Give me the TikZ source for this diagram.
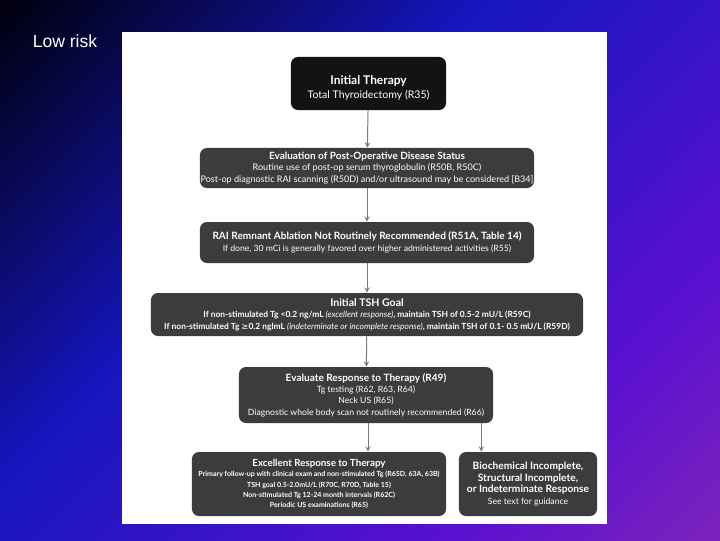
\documentclass[tikz,border=0pt]{standalone}
\usepackage{fontspec}
\setmainfont{Lato}
\newfontfamily\slidefont{Liberation Sans}
\newfontfamily\symfont{DejaVu Sans}
\definecolor{bgdark}{HTML}{00000E}
\definecolor{bgblue}{HTML}{1616C0}
\definecolor{bgviolet}{HTML}{5A10D0}
\definecolor{bgpurple}{HTML}{9A34A8}
\definecolor{boxblack}{HTML}{131313}
\definecolor{boxgray}{HTML}{3C3C3C}
\definecolor{arrowgray}{HTML}{7A7A7A}
\pgfdeclarehorizontalshading{slidebg}{100bp}{color(0bp)=(bgdark); color(15bp)=(bgdark); color(42bp)=(bgblue); color(70bp)=(bgviolet); color(100bp)=(bgpurple)}
\tikzset{
  stepbox/.style={fill=boxgray, rounded corners=5pt, text=white, align=center, inner sep=0pt},
  link/.style={->, draw=arrowgray, line width=0.7pt},
}

\begin{document}
\begin{tikzpicture}[x=0.025cm,y=-0.025cm,>=stealth]
  % slide background and white panel
  \shade[shading=slidebg,shading angle=-45] (0,0) rectangle (720,540);
  \fill[white] (122,32) rectangle (607,524);
  \node[text=white,font=\slidefont\fontsize{12.5}{14}\selectfont] (risk) at (65,41) {Low risk};

  % flow chart
  \node[stepbox,fill=boxblack,minimum width=3.875cm,minimum height=1.325cm,font=\fontsize{7.5}{10}\selectfont] (init) at (368.5,83.5)
    {\rule{0pt}{12pt}\textbf{\fontsize{8.5}{10}\selectfont Initial Therapy}\\Total Thyroidectomy (R35)};
  \node[stepbox,minimum width=8.35cm,minimum height=1.0cm,font=\fontsize{6.45}{8.2}\selectfont] (eval) at (367,168)
    {\textbf{\fontsize{7.1}{8.2}\selectfont Evaluation of Post-Operative Disease Status}\\
     Routine use of post-op serum thyroglobulin (R50B, R50C)\\
     Post-op diagnostic RAI scanning (R50D) and/or ultrasound may be considered [B34]};
  \node[stepbox,minimum width=8.35cm,minimum height=1.025cm,font=\fontsize{6.15}{8.6}\selectfont] (rai) at (367,242.5)
    {\textbf{\fontsize{7.15}{8.6}\selectfont RAI Remnant Ablation Not Routinely Recommended (R51A, Table 14)}\\
     If done, 30 mCi is generally favored over higher administered activities (R55)};
  \node[stepbox,minimum width=10.8cm,minimum height=1.075cm,font=\fontsize{6}{8.2}\selectfont] (tsh) at (367,314.5)
    {\textbf{\fontsize{7.5}{8.2}\selectfont Initial TSH Goal}\\
     \textbf{If non-stimulated Tg <0.2 ng/mL \textmd{\textit{(excellent response)}}, maintain TSH of 0.5-2 mU/L (R59C)}\\
     \textbf{If non-stimulated Tg {\symfont\textmd{≥}}0.2 nglmL \textmd{\textit{(indeterminate or incomplete response)}}, maintain TSH of 0.1- 0.5 mU/L (R59D)}};
  \node[stepbox,minimum width=6.35cm,minimum height=1.4cm,font=\fontsize{6.15}{8.1}\selectfont] (resp) at (366,395)
    {\textbf{\fontsize{7.15}{8.1}\selectfont Evaluate Response to Therapy (R49)}\\
     Tg testing (R62, R63, R64)\\
     Neck US (R65)\\
     Diagnostic whole body scan not routinely recommended (R66)};
  \node[stepbox,minimum width=6.35cm,minimum height=1.6cm,font=\fontsize{5}{7.3}\selectfont] (exc) at (319,484)
    {\textbf{\fontsize{6.95}{7.3}\selectfont Excellent Response to Therapy}\\
     \textbf{Primary follow-up with clinical exam and non-stimulated Tg (R65D, 63A, 63B)}\\
     \textbf{TSH goal 0.5-2.0mU/L (R70C, R70D, Table 15)}\\
     \textbf{Non-stimulated Tg 12-24 month intervals (R62C)}\\
     \textbf{Periodic US examinations (R65)}};
  \node[stepbox,minimum width=3.45cm,minimum height=1.6cm,font=\fontsize{6.15}{8.1}\selectfont] (inc) at (528,484)
    {\textbf{\fontsize{7.25}{8.1}\selectfont Biochemical Incomplete,}\\
     \textbf{\fontsize{7.25}{8.1}\selectfont Structural Incomplete,}\\
     \textbf{\fontsize{7.25}{8.1}\selectfont or Indeterminate Response}\\
     See text for guidance};

  % connectors
  \draw[link] (init) -- (eval);
  \draw[link] (eval) -- (rai);
  \draw[link] (rai) -- (tsh);
  \draw[link] (tsh) -- (resp);
  \draw[link] ([xshift=0.05cm]resp.south) -- ([xshift=0.05cm]resp.south |- exc.north);
  \draw[link] ([xshift=-0.3cm]resp.south east) -- ([xshift=-0.3cm]resp.south east |- inc.north);
\end{tikzpicture}
\end{document}
